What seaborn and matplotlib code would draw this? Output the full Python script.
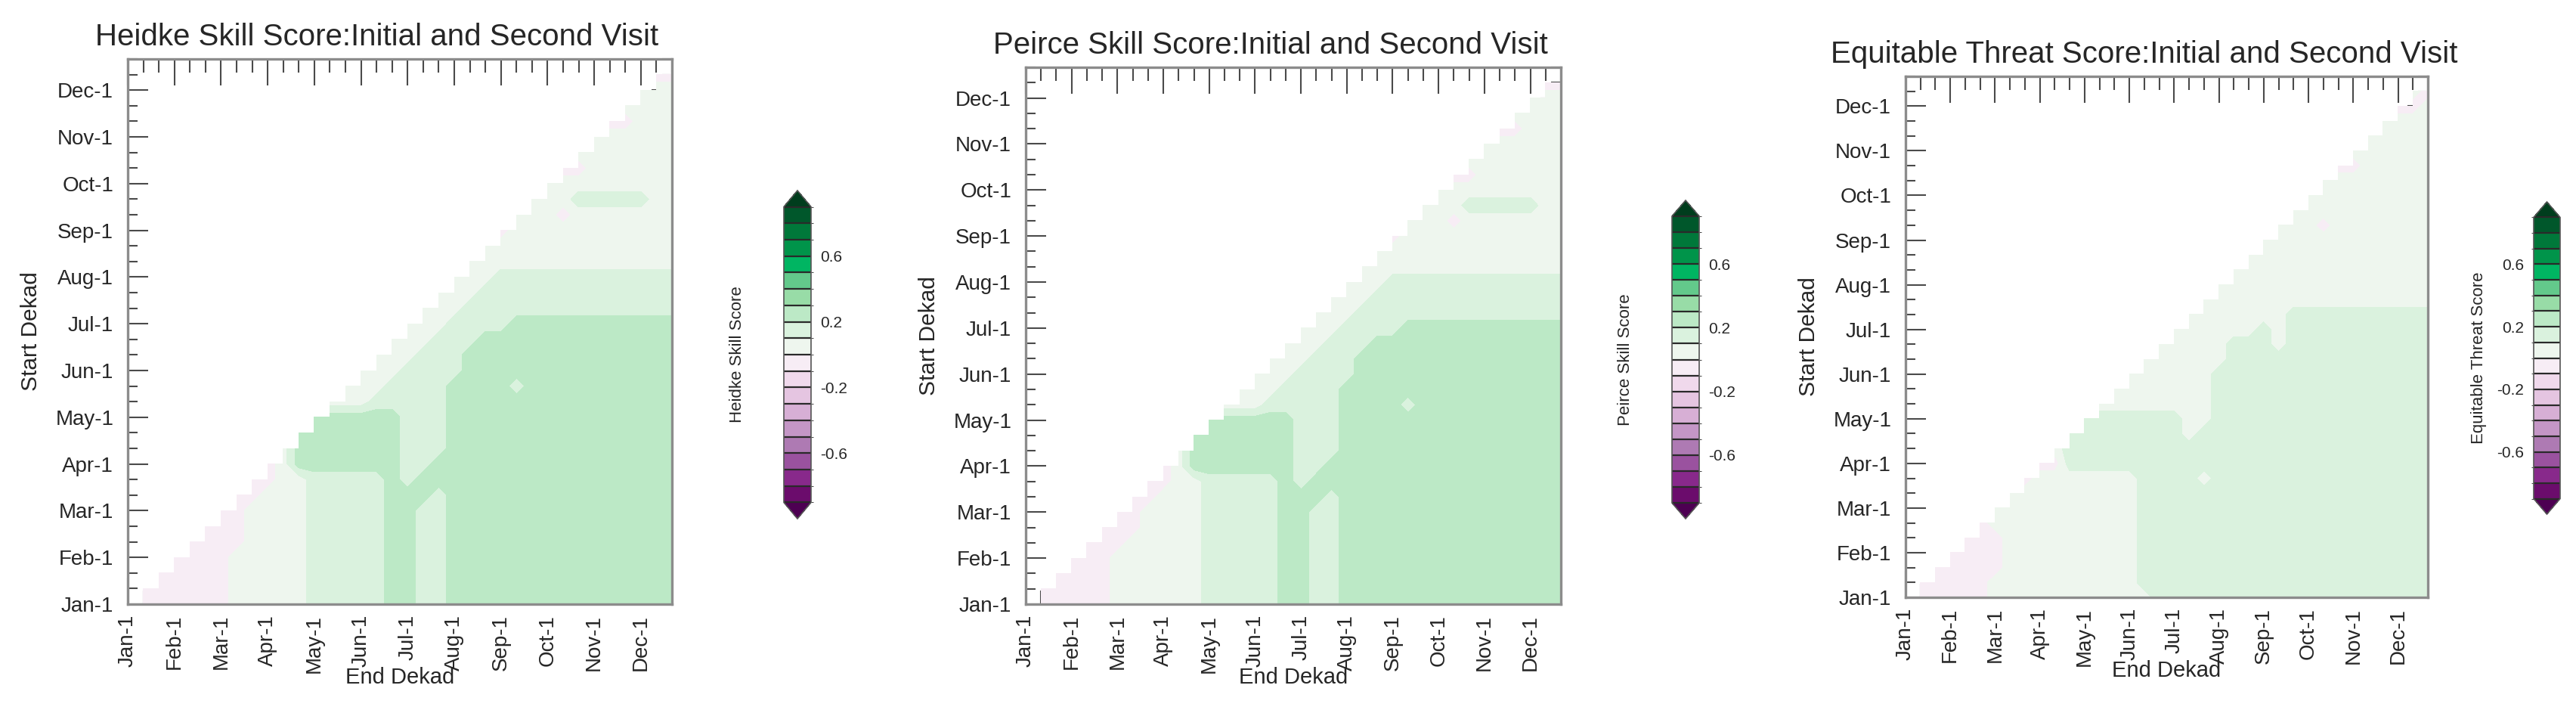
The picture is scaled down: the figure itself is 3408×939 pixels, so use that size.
import numpy as np
import matplotlib
matplotlib.use("Agg")
import matplotlib.pyplot as plt
from matplotlib.colors import ListedColormap, BoundaryNorm
from matplotlib.ticker import MultipleLocator
import seaborn as sns

# ---- data ----------------------------------------------------------------
month_labels = ["Jan-1", "Feb-1", "Mar-1", "Apr-1", "May-1", "Jun-1",
                "Jul-1", "Aug-1", "Sep-1", "Oct-1", "Nov-1", "Dec-1"]
month_start_dekad = [0, 3, 6, 9, 12, 15, 18, 21, 24, 27, 30, 33]
dekads = np.arange(36)

# score class of each (start, end) dekad; row j lists end dekads j..35
score_value = {"m": -0.05, "0": 0.05, "1": 0.15, "2": 0.25}

heidke_rows = [
    "mmmmmmm" "00000" "11111" "22" "11" "222222222222222",
    "mmmmmm" "00000" "11111" "22" "11" "222222222222222",
    "mmmmm" "00000" "11111" "22" "11" "222222222222222",
    "mmmm" "00000" "11111" "22" "11" "222222222222222",
    "mmmm" "0000" "11111" "22" "11" "222222222222222",
    "mmm" "0000" "11111" "22" "11" "222222222222222",
    "mm" "0000" "11111" "22" "11" "222222222222222",
    "mm" "000" "11111" "222" "1" "222222222222222",
    "mm" "00" "11111" "2" "1" "22222222222222222",
    "m0" "2222222" "11" "2222222222222222",
    "0" "2222222" "111" "222222222222222",
    "2222222" "111" "222222222222222",
    "222222" "111" "222222222222222",
    "000" "11111" "222222222222222",
    "000" "1111" "2222" "1" "2222222222",
    "000" "1111" "22222222222222",
    "000" "111" "22222222222222",
    "000" "111" "2222222222222",
    "000" "1111" "22222222222",
    "000" "11111111111111",
    "000" "1111111111111",
    "000" "111111111111",
    "00000000000000",
    "0000000000000",
    "m" "00000000000",
    "000" "m" "0000000",
    "000" "11111" "00",
    "000000000",
    "mm" "000000",
    "0000000",
    "000000",
    "mm" "000",
    "0000",
    "000",
    "mm",
    "m",
]

peirce_rows = [
    "mmmmmm" "000000" "11111" "22" "11" "222222222222222",
    "mmmmm" "000000" "11111" "22" "11" "222222222222222",
    "mmmm" "000000" "11111" "22" "11" "222222222222222",
    "mmm" "000000" "11111" "22" "11" "222222222222222",
    "mmm" "00000" "11111" "22" "11" "222222222222222",
    "mmm" "0000" "11111" "22" "11" "222222222222222",
    "mm" "0000" "11111" "22" "11" "222222222222222",
    "mm" "000" "11111" "222" "1" "222222222222222",
    "mm" "00" "11111" "2" "1" "22222222222222222",
    "m0" "2222222" "11" "2222222222222222",
    "0" "2222222" "111" "222222222222222",
    "2222222" "111" "222222222222222",
    "222222" "111" "222222222222222",
    "000" "11111" "2222" "1" "2222222222",
    "000" "1111" "222222222222222",
    "000" "1111" "22222222222222",
    "000" "111" "22222222222222",
    "000" "111" "2222222222222",
    "000" "1111" "22222222222",
    "000" "11111111111111",
    "000" "1111111111111",
    "000" "111111111111",
    "00000000000000",
    "0000000000000",
    "m" "00000000000",
    "000" "m" "0000000",
    "000" "11111" "00",
    "000000000",
    "mm" "000000",
    "0000000",
    "000000",
    "mm" "000",
    "0000",
    "000",
    "mm",
    "m",
]

ets_rows = [
    "mmmmmm" "00000000000" "1111111111111111111",
    "mmmmm" "0000000000" "11111111111111111111",
    "mmmmm" "000000000" "11111111111111111111",
    "mmmm" "000000000" "11111111111111111111",
    "mmm" "000000000" "11111111111111111111",
    "m" "0000000000" "11111111111111111111",
    "0000000000" "11111111111111111111",
    "000000000" "11111111111111111111",
    "m" "0000000" "1111" "0" "111111111111111",
    "mm" "1111111111111111111111111",
    "0" "1111111111111111111111111",
    "11111111" "0" "1111111111111111",
    "1111111" "00" "111111111111111",
    "00000000" "111111111111111",
    "0000000" "111111111111111",
    "000000" "111111111111111",
    "000000" "11111111111111",
    "00000" "111" "0" "1111111111",
    "000000" "1" "0" "1111111111",
    "0000000" "1111111111",
    "0000000000000000",
    "000000000000000",
    "00000000000000",
    "0000000000000",
    "000000000000",
    "000" "m" "0000000",
    "0000000000",
    "000000000",
    "00000000",
    "mm" "00000",
    "000000",
    "00000",
    "0000",
    "mm" "0",
    "0" "m",
    "m",
]

panel_titles = ["Heidke Skill Score:Initial and Second Visit",
                "Peirce Skill Score:Initial and Second Visit",
                "Equitable Threat Score:Initial and Second Visit"]
colorbar_labels = ["Heidke Skill Score", "Peirce Skill Score",
                   "Equitable Threat Score"]
levels = np.round(np.arange(-0.9, 0.95, 0.1), 1)
cb_ticks = [-0.6, -0.2, 0.2, 0.6]
cb_ticklabels = ["-0.6", "-0.2", "0.2", "0.6"]

# ---- style -----------------------------------------------------------------
sns.set_style("white")
plt.rcParams["font.family"] = ["Liberation Sans", "DejaVu Sans"]
plt.rcParams["axes.unicode_minus"] = False

bin_colors = ["#6b0c6c", "#88298b", "#9a529f", "#ae7ab3", "#c496c6", "#d7afd5",
              "#e5c5e1", "#f0d9ec", "#f7edf5", "#eef6ee", "#daf2de", "#bce9c6",
              "#98dca7", "#63c98b", "#00b562", "#00944a", "#00783a", "#00572b"]
cmap = ListedColormap(bin_colors)
cmap.set_under("#4d0052")
cmap.set_over("#003d1d")
norm = BoundaryNorm(levels, cmap.N)

W, H = 3408, 939
fig = plt.figure(figsize=(W / 100, H / 100), dpi=100)


def px_rect(x0, y0, x1, y1):
    return [x0 / W, 1 - y1 / H, (x1 - x0) / W, (y1 - y0) / H]


axes_boxes = [(169, 78, 889, 799), (1357, 89, 2065, 799), (2521, 101, 3212, 790)]
cbar_boxes = [(1037, 252, 1073, 686), (2212, 265, 2248, 686), (3352, 267, 3387, 680)]
tick_color = "#4a4a4a"

for rows, title, cb_label, box, cbox in zip(
        [heidke_rows, peirce_rows, ets_rows], panel_titles, colorbar_labels,
        axes_boxes, cbar_boxes):
    for j, row in enumerate(rows):
        if len(row) != 36 - j:
            raise ValueError(f"row {j} of '{title}' has {len(row)} entries")
    grid = np.full((36, 36), np.nan)
    for j, row in enumerate(rows):
        for k, c in enumerate(row):
            grid[j, j + k] = score_value[c]
    z = np.ma.masked_invalid(grid)

    ax = fig.add_axes(px_rect(*box))
    cs = ax.contourf(dekads, dekads, z, levels=levels, cmap=cmap, norm=norm,
                     extend="both", corner_mask=False)
    ax.set_xlim(0, 35)
    ax.set_ylim(0, 35)
    ax.set_xticks(month_start_dekad)
    ax.set_xticklabels(month_labels, rotation=90)
    ax.set_yticks(month_start_dekad)
    ax.set_yticklabels(month_labels)
    ax.xaxis.set_minor_locator(MultipleLocator(1))
    ax.yaxis.set_minor_locator(MultipleLocator(1))
    ax.tick_params(axis="x", which="major", direction="in", length=25, width=1.5,
                   top=True, bottom=True, labelsize=20, pad=10, color=tick_color)
    ax.tick_params(axis="x", which="minor", direction="in", length=13, width=1.5,
                   top=True, bottom=True, color=tick_color)
    ax.tick_params(axis="y", which="major", direction="in", length=19.5, width=1.5,
                   left=True, right=True, labelsize=20, pad=13.5, color=tick_color)
    ax.tick_params(axis="y", which="minor", direction="in", length=9.4, width=1.5,
                   left=True, right=True, color=tick_color)
    for s in ax.spines.values():
        s.set_color("#8c8c8c")
        s.set_linewidth(2.4)

    w_px, h_px = box[2] - box[0], box[3] - box[1]
    ax.set_xlabel("End Dekad", fontsize=21)
    ax.xaxis.set_label_coords(0.5, -97 / h_px)
    ax.xaxis.label.set_va("center")
    ax.set_ylabel("Start Dekad", fontsize=21.5)
    ax.yaxis.set_label_coords(-128 / w_px, 0.5)
    ax.yaxis.label.set_va("center")

    fig.text(((box[0] + box[2]) / 2 - 30) / W, 1 - (box[1] - 18) / H, title,
             ha="center", va="baseline", fontsize=29)

    cax = fig.add_axes(px_rect(*cbox))
    cb = fig.colorbar(cs, cax=cax, orientation="vertical", extendfrac=0.055,
                      drawedges=True, ticks=cb_ticks)
    cb.set_ticklabels(cb_ticklabels)
    cb.outline.set_edgecolor("#555555")
    cb.outline.set_linewidth(1.2)
    cb.dividers.set_color("#2a2a2a")
    cb.dividers.set_linewidth(1.6)
    cax.yaxis.set_ticks_position("left")
    cax.tick_params(length=0, labelsize=15, pad=9)
    cax.set_ylabel(cb_label, fontsize=16)
    cax.yaxis.set_label_position("left")
    cax.yaxis.set_label_coords(-72 / (cbox[2] - cbox[0]), 0.5)
    cax.yaxis.label.set_va("center")

fig.savefig("out.png", dpi=100)
